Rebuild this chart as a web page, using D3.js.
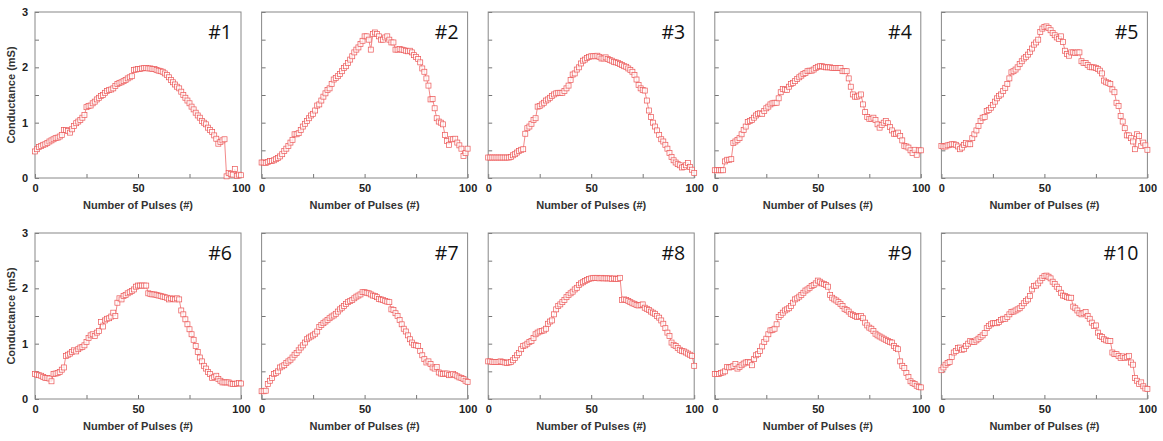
<!DOCTYPE html>
<html>
<head>
<meta charset="utf-8">
<script src="https://cdn.jsdelivr.net/npm/d3@7"></script>
<style>
  body { margin: 0; background: #fff; }
  svg { display: block; }
</style>
</head>
<body>
<div id="chart"></div>
<script>
// conductance (mS) per pulse, pulses 0..100
const device1 = [0.48,0.52,0.56,0.58,0.6,0.61,0.63,0.66,0.68,0.7,0.72,0.73,0.75,0.78,0.87,0.87,0.85,0.82,0.88,0.94,0.99,1.02,1.05,1.09,1.14,1.28,1.3,1.31,1.35,1.38,1.42,1.45,1.48,1.5,1.54,1.57,1.59,1.6,1.62,1.66,1.7,1.72,1.73,1.75,1.77,1.8,1.82,1.84,1.95,1.96,1.97,1.97,1.98,1.99,1.99,1.98,1.98,1.97,1.97,1.95,1.94,1.93,1.92,1.89,1.86,1.82,1.77,1.73,1.69,1.65,1.62,1.56,1.5,1.45,1.4,1.35,1.29,1.24,1.18,1.13,1.09,1.03,1.0,0.97,0.91,0.87,0.83,0.77,0.71,0.62,0.65,0.68,0.7,0.03,0.09,0.07,0.06,0.16,0.04,0.06,0.05];
const device2 = [0.28,0.28,0.27,0.29,0.31,0.31,0.32,0.34,0.36,0.39,0.43,0.49,0.53,0.58,0.64,0.69,0.79,0.79,0.81,0.87,0.93,0.98,1.03,1.08,1.13,1.16,1.22,1.31,1.33,1.4,1.47,1.53,1.59,1.62,1.7,1.78,1.81,1.84,1.88,1.93,1.99,2.02,2.08,2.14,2.2,2.27,2.32,2.36,2.42,2.48,2.56,2.56,2.5,2.32,2.6,2.63,2.6,2.56,2.5,2.5,2.54,2.56,2.5,2.45,2.45,2.32,2.32,2.33,2.32,2.31,2.3,2.29,2.3,2.27,2.22,2.19,2.15,2.09,1.98,1.92,1.8,1.67,1.42,1.43,1.26,1.08,1.02,1.0,0.97,0.78,0.67,0.6,0.7,0.7,0.71,0.64,0.59,0.53,0.4,0.45,0.53];
const device3 = [0.37,0.37,0.37,0.37,0.37,0.37,0.37,0.37,0.37,0.37,0.37,0.38,0.41,0.43,0.46,0.49,0.51,0.52,0.8,0.9,0.93,0.98,1.05,1.08,1.29,1.3,1.33,1.36,1.4,1.42,1.45,1.48,1.51,1.53,1.54,1.54,1.54,1.57,1.62,1.67,1.77,1.87,1.89,1.96,2.0,2.07,2.12,2.14,2.17,2.19,2.2,2.2,2.2,2.21,2.19,2.16,2.16,2.18,2.15,2.13,2.12,2.1,2.09,2.08,2.06,2.04,2.02,2.01,1.98,1.95,1.92,1.86,1.78,1.68,1.62,1.59,1.58,1.4,1.22,1.1,1.0,0.93,0.86,0.78,0.7,0.66,0.6,0.53,0.45,0.38,0.32,0.28,0.25,0.23,0.19,0.2,0.23,0.27,0.2,0.15,0.09];
const device4 = [0.14,0.14,0.14,0.14,0.14,0.3,0.33,0.33,0.34,0.63,0.66,0.69,0.72,0.79,0.87,0.93,1.01,1.03,1.05,1.09,1.13,1.16,1.17,1.16,1.21,1.26,1.29,1.33,1.35,1.36,1.36,1.44,1.55,1.61,1.6,1.59,1.65,1.7,1.72,1.75,1.79,1.82,1.85,1.88,1.9,1.93,1.94,1.94,1.96,1.99,2.01,2.02,2.02,2.01,2.0,2.0,2.0,1.99,1.99,1.99,1.99,1.99,1.93,1.93,1.93,1.8,1.65,1.51,1.47,1.47,1.49,1.51,1.33,1.19,1.1,1.07,1.07,1.09,1.05,0.97,0.91,0.96,1.0,1.03,0.99,0.92,0.86,0.8,0.8,0.82,0.76,0.68,0.58,0.57,0.55,0.5,0.45,0.51,0.42,0.5,0.5];
const device5 = [0.58,0.57,0.57,0.59,0.6,0.61,0.61,0.6,0.57,0.52,0.55,0.6,0.63,0.61,0.61,0.72,0.79,0.86,0.94,1.03,1.09,1.1,1.21,1.23,1.27,1.32,1.38,1.44,1.48,1.51,1.57,1.63,1.7,1.8,1.91,1.93,1.96,2.0,2.06,2.11,2.16,2.19,2.23,2.28,2.34,2.41,2.45,2.5,2.64,2.7,2.73,2.74,2.71,2.67,2.62,2.58,2.54,2.51,2.56,2.46,2.3,2.24,2.21,2.27,2.27,2.26,2.27,2.27,2.11,2.08,2.08,2.04,2.01,2.0,2.0,1.99,1.97,1.94,1.89,1.76,1.73,1.72,1.7,1.6,1.55,1.36,1.3,1.12,1.02,0.9,0.77,0.77,0.72,0.66,0.52,0.79,0.76,0.58,0.64,0.59,0.51];
const device6 = [0.45,0.44,0.43,0.42,0.4,0.38,0.38,0.37,0.32,0.45,0.46,0.47,0.49,0.53,0.57,0.78,0.8,0.82,0.85,0.88,0.86,0.9,0.93,0.94,0.97,1.03,1.1,1.15,1.17,1.14,1.2,1.23,1.39,1.31,1.42,1.45,1.46,1.49,1.56,1.5,1.74,1.82,1.8,1.86,1.88,1.91,1.93,1.95,1.98,2.03,2.05,2.05,2.05,2.05,2.05,1.91,1.9,1.89,1.89,1.88,1.87,1.86,1.85,1.84,1.83,1.8,1.82,1.81,1.8,1.82,1.8,1.6,1.53,1.44,1.35,1.26,1.17,1.07,0.96,0.85,0.75,0.68,0.6,0.55,0.49,0.45,0.38,0.4,0.42,0.36,0.33,0.3,0.3,0.3,0.3,0.28,0.27,0.27,0.28,0.29,0.28];
const device7 = [0.14,0.14,0.15,0.27,0.33,0.38,0.45,0.47,0.5,0.57,0.59,0.61,0.65,0.68,0.71,0.75,0.8,0.83,0.88,0.93,0.97,1.02,1.08,1.11,1.13,1.15,1.18,1.22,1.3,1.34,1.37,1.4,1.43,1.46,1.49,1.51,1.54,1.58,1.62,1.65,1.68,1.72,1.75,1.77,1.79,1.82,1.85,1.87,1.89,1.93,1.93,1.92,1.91,1.89,1.87,1.86,1.84,1.81,1.8,1.79,1.77,1.76,1.75,1.62,1.61,1.55,1.5,1.43,1.35,1.27,1.22,1.15,1.08,1.02,0.98,0.97,0.96,0.87,0.79,0.72,0.66,0.68,0.63,0.57,0.55,0.58,0.48,0.46,0.45,0.46,0.46,0.43,0.44,0.45,0.43,0.41,0.39,0.38,0.36,0.33,0.31];
const device8 = [0.68,0.68,0.67,0.67,0.67,0.67,0.68,0.67,0.66,0.65,0.66,0.67,0.7,0.74,0.79,0.83,0.9,0.96,0.97,1.0,1.03,1.05,1.1,1.17,1.2,1.22,1.23,1.24,1.27,1.36,1.4,1.42,1.53,1.62,1.68,1.71,1.75,1.79,1.84,1.88,1.91,1.94,1.98,2.01,2.06,2.09,2.11,2.13,2.15,2.17,2.18,2.19,2.19,2.19,2.18,2.19,2.18,2.18,2.18,2.18,2.17,2.18,2.17,2.17,2.19,1.79,1.8,1.79,1.77,1.75,1.73,1.72,1.7,1.69,1.7,1.71,1.65,1.63,1.61,1.58,1.56,1.54,1.5,1.47,1.42,1.36,1.28,1.2,1.14,1.02,0.98,0.96,0.92,0.89,0.87,0.86,0.84,0.82,0.8,0.78,0.6];
const device9 = [0.45,0.45,0.45,0.47,0.48,0.5,0.58,0.57,0.58,0.6,0.63,0.55,0.58,0.61,0.64,0.66,0.67,0.66,0.61,0.72,0.79,0.81,0.87,0.95,1.03,1.09,1.17,1.24,1.25,1.27,1.35,1.48,1.52,1.56,1.6,1.62,1.64,1.68,1.74,1.8,1.82,1.85,1.88,1.92,1.96,1.98,2.01,2.04,2.06,2.09,2.14,2.12,2.09,2.08,2.06,2.03,1.88,1.83,1.8,1.78,1.75,1.72,1.68,1.63,1.61,1.58,1.54,1.52,1.5,1.48,1.49,1.5,1.46,1.38,1.33,1.29,1.27,1.23,1.18,1.15,1.13,1.11,1.09,1.07,1.05,1.03,1.02,0.96,0.92,0.9,0.68,0.6,0.56,0.47,0.4,0.32,0.29,0.27,0.24,0.22,0.21];
const device10 = [0.52,0.57,0.62,0.65,0.67,0.76,0.84,0.87,0.92,0.93,0.89,0.9,0.96,1.0,1.05,1.03,1.03,1.06,1.09,1.12,1.15,1.19,1.28,1.32,1.35,1.37,1.37,1.37,1.39,1.43,1.45,1.45,1.48,1.53,1.57,1.58,1.6,1.62,1.64,1.68,1.73,1.77,1.8,1.86,1.98,2.04,2.05,2.09,2.14,2.19,2.22,2.23,2.21,2.18,2.12,2.08,2.03,1.99,1.92,1.87,1.86,1.84,1.83,1.83,1.67,1.64,1.6,1.55,1.53,1.55,1.57,1.5,1.45,1.38,1.32,1.33,1.2,1.14,1.12,1.08,1.06,1.05,1.05,0.84,0.81,0.81,0.78,0.74,0.77,0.74,0.76,0.78,0.66,0.62,0.38,0.33,0.27,0.3,0.23,0.19,0.18];

const panelLabels = ["#1", "#2", "#3", "#4", "#5", "#6", "#7", "#8", "#9", "#10"];
const allDevices = [device1, device2, device3, device4, device5, device6, device7, device8, device9, device10];
const yTickLabels = [0, 1, 2, 3];
const xTickLabels = [0, 50, 100];

// canvas + panel grid
const width = 1163;
const height = 441;
const panelW = 206;
const panelH = 166;
const colStep = 226.6;
const panelLeft = 35;
const rowTops = [12, 233];

const svg = d3.select("#chart")
  .append("svg")
    .attr("width", width)
    .attr("height", height);

const markerColor = "#ec5656";

allDevices.forEach(function(values, i) {
  const row = Math.floor(i / 5);
  const col = i % 5;
  const left = panelLeft + col * colStep;
  const top = rowTops[row];

  const x = d3.scaleLinear().domain([0, 100]).range([0, panelW]);
  const y = d3.scaleLinear().domain([0, 3]).range([panelH, 0]);

  const g = svg.append("g")
    .attr("transform", `translate(${left},${top})`);

  // inward ticks, labels only where the figure has them
  const yAxis = d3.axisLeft(y)
    .tickValues(d3.range(0, 3.01, 0.5))
    .tickSizeInner(-4)
    .tickSizeOuter(0)
    .tickFormat(d => (col === 0 && yTickLabels.includes(d)) ? d : "");
  const xAxis = d3.axisBottom(x)
    .tickValues([0, 25, 50, 75, 100])
    .tickSizeInner(-4)
    .tickSizeOuter(0)
    .tickFormat(d => xTickLabels.includes(d) ? d : "");

  const ya = g.append("g").call(yAxis);
  ya.select(".domain").remove();
  ya.selectAll("line").attr("stroke", "#777");
  ya.selectAll("text")
    .attr("x", -7)
    .style("font-family", "'Liberation Sans', Arial, sans-serif")
    .style("font-weight", "bold")
    .style("font-size", "11px")
    .attr("fill", "#222");

  const xa = g.append("g")
    .attr("transform", `translate(0,${panelH})`)
    .call(xAxis);
  xa.select(".domain").remove();
  xa.selectAll("line").attr("stroke", "#777");
  xa.selectAll("text")
    .attr("y", 6)
    .style("font-family", "'Liberation Sans', Arial, sans-serif")
    .style("font-weight", "bold")
    .style("font-size", "11px")
    .attr("fill", "#222");

  // frame
  g.append("rect")
    .attr("width", panelW)
    .attr("height", panelH)
    .attr("fill", "none")
    .attr("stroke", "#888")
    .attr("stroke-width", 1);

  // connecting line
  const line = d3.line()
    .x((d, k) => x(k))
    .y(d => y(d));
  g.append("path")
    .datum(values)
    .attr("fill", "none")
    .attr("stroke", markerColor)
    .attr("stroke-width", 0.7)
    .attr("d", line);

  // hollow square markers
  const s = 5;
  g.append("g")
    .selectAll("rect")
    .data(values)
    .join("rect")
      .attr("x", (d, k) => x(k) - s / 2)
      .attr("y", d => y(d) - s / 2)
      .attr("width", s)
      .attr("height", s)
      .attr("fill", "rgba(255,255,255,0.75)")
      .attr("stroke", markerColor)
      .attr("stroke-width", 0.7);

  // panel label
  g.append("text")
    .attr("x", panelW - 9)
    .attr("y", 27)
    .attr("text-anchor", "end")
    .style("font-family", "'Open Sans', sans-serif")
    .style("font-size", "19.5px")
    .attr("fill", "#111")
    .text(panelLabels[i]);

  // axis titles
  g.append("text")
    .attr("x", panelW / 2)
    .attr("y", panelH + 31)
    .attr("text-anchor", "middle")
    .style("font-family", "'Liberation Sans', Arial, sans-serif")
    .style("font-weight", "bold")
    .style("font-size", "11px")
    .attr("fill", "#333")
    .text("Number of Pulses (#)");

  if (col === 0) {
    g.append("text")
      .attr("transform", `translate(-20,${panelH / 2}) rotate(-90)`)
      .attr("text-anchor", "middle")
      .style("font-family", "'Liberation Sans', Arial, sans-serif")
      .style("font-weight", "bold")
      .style("font-size", "11px")
      .attr("fill", "#333")
      .text("Conductance (mS)");
  }
});
</script>
</body>
</html>
